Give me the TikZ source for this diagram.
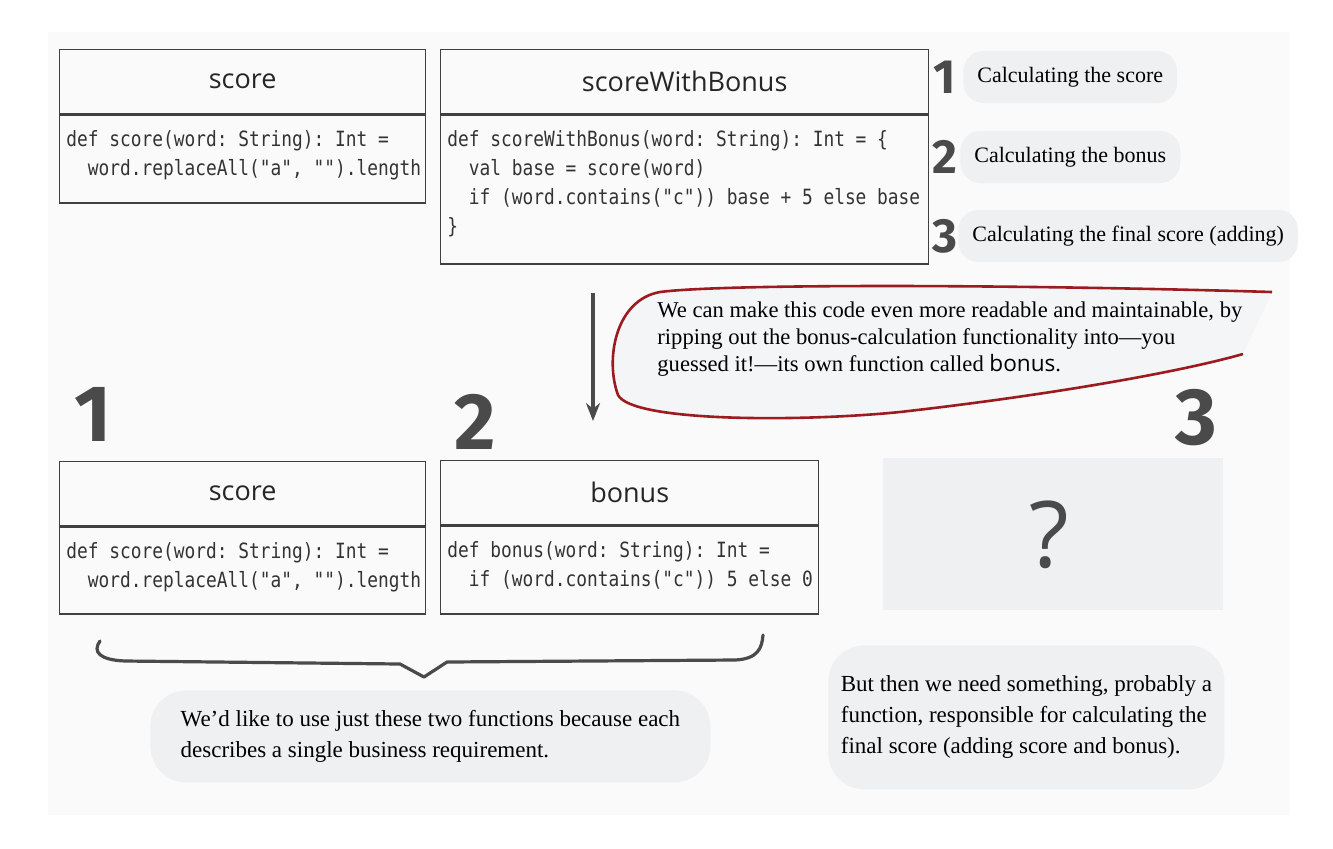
\documentclass[tikz,border=0pt]{standalone}
\usepackage{fontspec}
\setmainfont{Liberation Serif}
\setmonofont{DejaVu Sans Mono}[FakeStretch=0.85]
\newfontfamily\handfont{Open Sans}
\newfontfamily\numfont{Fira Sans}
\usetikzlibrary{arrows.meta,positioning}

\definecolor{panelgris}{HTML}{FAFAFA}
\definecolor{pilule}{HTML}{EEF0F2}
\definecolor{bordeaux}{HTML}{9B1B1F}
\definecolor{encre}{HTML}{4A4A4A}

\tikzset{
  fnhead/.style={draw=black!75, line width=0.7pt, anchor=north west, minimum height=32pt,
    inner sep=0pt, text=black!85, font=\handfont\fontsize{13.5}{16}\selectfont},
  fnbody/.style={draw=black!75, line width=0.7pt, anchor=north west, inner sep=0pt},
  code/.style={anchor=north west, inner sep=0pt, align=left, text=black!80,
    font=\ttfamily\fontsize{10.5}{14.5}\selectfont},
  smallnum/.style={text=encre, inner sep=0pt, font=\numfont\bfseries\fontsize{24}{24}\selectfont},
  bignum/.style={text=encre, inner sep=0pt, font=\numfont\bfseries\fontsize{40}{40}\selectfont},
  pillabel/.style={fill=pilule, rounded corners=10pt, anchor=west, inner xsep=7pt, inner ysep=8pt,
    font=\fontsize{11}{13.5}\selectfont},
  pilltext/.style={fill=pilule, rounded corners=18pt, align=left,
    font=\fontsize{11.5}{15.5}\selectfont},
  flow/.style={-{Stealth[length=9pt,width=7pt]}, line width=1.6pt, encre},
}

\begin{document}
\begin{tikzpicture}[x=0.5pt, y=-0.5pt]

    \useasboundingbox (0,0) rectangle (1333,848);
    \fill[panelgris] (48,32) rectangle (1290,815);

    % Les fonctions du haut
    \node[fnhead, minimum width=183pt] (scoreA) at (59,49) {score};
    \node[fnbody, minimum width=183pt, minimum height=44pt] (scoreAbody) at (scoreA.south west) {};
    \node[code] (scoreAcode) at ([xshift=3.5pt, yshift=-8pt]scoreAbody.north west)
        {def score(word: String): Int =\\\ \ word.replaceAll("a", "").length};

    \node[fnhead, minimum width=244pt] (bonusA) at (440,49) {scoreWithBonus};
    \node[fnbody, minimum width=244pt, minimum height=74.5pt] (bonusAbody) at (bonusA.south west) {};
    \node[code] (bonusAcode) at ([xshift=3.5pt, yshift=-8pt]bonusAbody.north west)
        {def scoreWithBonus(word: String): Int = \{\\\ \ val base = score(word)\\
         \ \ if (word.contains("c")) base + 5 else base\\\}};

    % Les trois étapes
    \node[smallnum] (n1) at (945,77) {1};
    \node[smallnum] (n2) at (945,157) {2};
    \node[smallnum] (n3) at (945,236) {3};
    \node[pillabel] (etape1) at (963,77) {Calculating the score};
    \node[pillabel] (etape2) at (960,157) {Calculating the bonus};
    \node[pillabel] (etape3) at (958,236) {Calculating the final score (adding)};

    % La flèche vers le bas
    \coordinate (haut) at (593,293);
    \coordinate (bas) at (593,421);
    \draw[flow] (haut) -- (bas);

    % La bulle rouge
    \fill[pilule!70] (1272,292) .. controls (1000,284) and (720,284) .. (660,292)
        .. controls (615,300) and (605,360) .. (618,395)
        .. controls (632,422) and (800,422) .. (900,412)
        .. controls (1050,395) and (1180,372) .. (1243,354) -- cycle;
    \draw[bordeaux, line width=1.3pt] (1272,292) .. controls (1000,284) and (720,284) .. (660,292)
        .. controls (615,300) and (605,360) .. (618,395)
        .. controls (632,422) and (800,422) .. (900,412)
        .. controls (1050,395) and (1180,372) .. (1243,354);
    \node[anchor=north west, align=left, inner sep=0pt, font=\fontsize{11.3}{13.5}\selectfont] (bulle) at (657,301)
        {We can make this code even more readable and maintainable, by\\
         ripping out the bonus-calculation functionality into—you\\
         guessed it!—its own function called {\handfont bonus}.};

    % Les fonctions du bas
    \node[bignum] (m1) at (93,414) {1};
    \node[bignum] (m2) at (475,422) {2};
    \node[bignum] (m3) at (1196,418) {3};

    \node[fnhead, minimum width=183pt] (scoreB) at (59,461) {score};
    \node[fnbody, minimum width=183pt, minimum height=43.5pt] (scoreBbody) at (scoreB.south west) {};
    \node[code] (scoreBcode) at ([xshift=3.5pt, yshift=-8pt]scoreBbody.north west)
        {def score(word: String): Int =\\\ \ word.replaceAll("a", "").length};

    \node[fnhead, minimum width=189pt] (bonusB) at (440,460) {bonus};
    \node[fnbody, minimum width=189pt, minimum height=44pt] (bonusBbody) at (bonusB.south west) {};
    \node[code] (bonusBcode) at ([xshift=3.5pt, yshift=-8pt]bonusBbody.north west)
        {def bonus(word: String): Int =\\\ \ if (word.contains("c")) 5 else 0};

    % La troisième, inconnue
    \node[fill=pilule, minimum width=170pt, minimum height=76pt, anchor=north west] (inconnue) at (883,458) {};
    \node[text=encre, font=\handfont\fontsize{46}{46}\selectfont] (question) at ([xshift=-2pt]inconnue.center) {?};

    % L'accolade
    \draw[encre, line width=1.6pt, line cap=round, line join=round]
        (100,641) .. controls (92,652) and (100,660) .. (125,661) -- (400,664) -- (424,677)
        -- (447,662) -- (735,660) .. controls (758,659) and (762,648) .. (763,635);

    % Les commentaires du bas
    \node[pilltext, minimum width=280pt, minimum height=46pt, anchor=north west] (deux) at (150,690)
        {We'd like to use just these two functions because each\\
         describes a single business requirement.};
    \node[pilltext, minimum width=198pt, minimum height=72pt, anchor=north west] (somme) at (828,645)
        {But then we need something, probably a\\
         function, responsible for calculating the\\
         final score (adding score and bonus).};

\end{tikzpicture}
\end{document}
